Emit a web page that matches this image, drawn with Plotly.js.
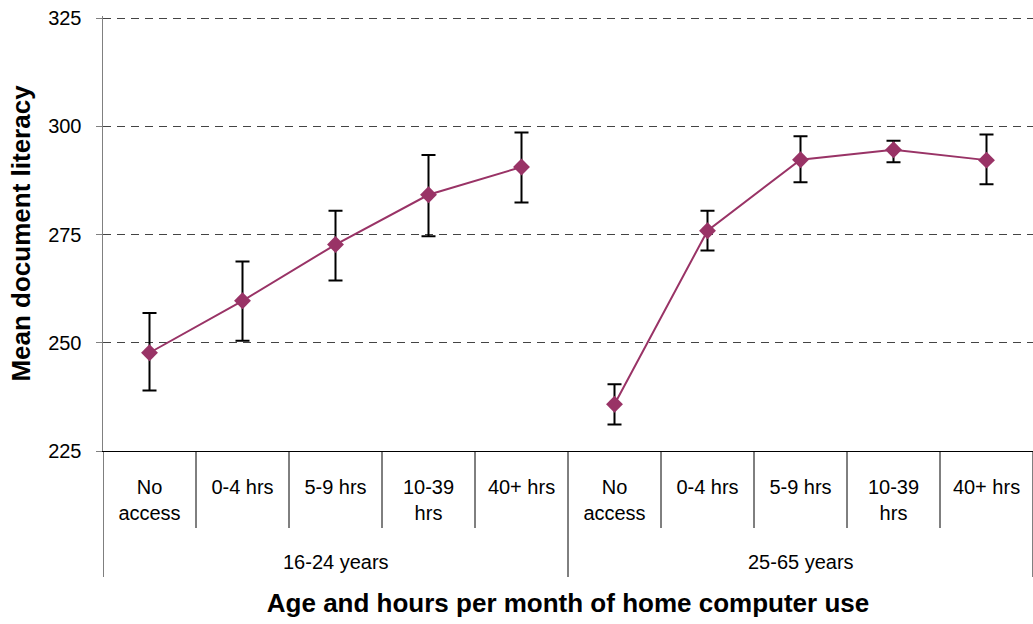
<!DOCTYPE html>
<html>
<head>
<meta charset="utf-8">
<script src="https://cdn.plot.ly/plotly-3.0.1.min.js"></script>
<style>html,body{margin:0;padding:0;background:#fff;}#chart{width:1033px;height:624px;}</style>
</head>
<body>
<div id="chart"></div>
<script>
const hours = ["No<br>access", "0-4 hrs", "5-9 hrs", "10-39<br>hrs", "40+ hrs"];
const groups = ["16-24 years", "25-65 years"];

const mean1624 = [247.7, 259.7, 272.7, 284.2, 290.6];
const upper1624 = [256.9, 268.8, 280.5, 293.4, 298.6];
const lower1624 = [239.0, 250.5, 264.4, 274.6, 282.4];

const mean2565 = [235.8, 275.9, 292.3, 294.6, 292.2];
const upper2565 = [240.4, 280.5, 297.7, 296.7, 298.1];
const lower2565 = [231.1, 271.3, 287.1, 291.7, 286.6];

const yTicks = [225, 250, 275, 300, 325];

const FONT = "Liberation Sans, Arial, sans-serif";
const n = hours.length;

function makeTrace(gi, mean, upper, lower) {
  return {
    type: "scatter",
    mode: "lines+markers",
    x: hours.map((h, i) => gi * n + i),
    y: mean,
    line: {color: "#993366", width: 2},
    marker: {symbol: "diamond", size: 13, color: "#993366"},
    error_y: {
      type: "data", symmetric: false,
      array: upper.map((u, i) => u - mean[i]),
      arrayminus: lower.map((l, i) => mean[i] - l),
      color: "#000000", thickness: 2, width: 7
    },
    showlegend: false,
    hoverinfo: "y"
  };
}

const data = [
  makeTrace(0, mean1624, upper1624, lower1624),
  makeTrace(1, mean2565, upper2565, lower2565)
];

const allTickVals = [];
const allTickText = [];
groups.forEach((g, gi) => hours.forEach((h, i) => { allTickVals.push(gi * n + i); allTickText.push(h); }));

// plot area: top 16, bottom 451 -> 435 px tall
const shapes = [];
for (let b = 0; b <= groups.length * n; b++) {
  const isGroupEdge = (b % n === 0);
  shapes.push({
    type: "line", xref: "x", yref: "paper",
    x0: b - 0.5, x1: b - 0.5, y0: 0, y1: isGroupEdge ? -126 / 435 : -77 / 435,
    line: {color: "#000", width: 1}, layer: "above"
  });
}

const annotations = groups.map((g, gi) => ({
  text: g, xref: "x", yref: "paper",
  x: gi * n + (n - 1) / 2, y: -111 / 435,
  xanchor: "center", yanchor: "middle", showarrow: false,
  font: {family: FONT, size: 20, color: "#000"}
}));

const layout = {
  width: 1033, height: 624,
  margin: {l: 103, r: 0, t: 16, b: 173},
  paper_bgcolor: "#ffffff", plot_bgcolor: "#ffffff",
  font: {family: FONT, size: 20, color: "#000"},
  showlegend: false,
  shapes: shapes,
  annotations: annotations,
  xaxis: {
    range: [-0.5, groups.length * n - 0.5],
    tickvals: allTickVals, ticktext: allTickText,
    showline: true, linecolor: "#000", linewidth: 1,
    showgrid: false, zeroline: false,
    ticks: "", ticklabelstandoff: 18,
    tickfont: {family: FONT, size: 20, color: "#000"},
    title: {text: "<b>Age and hours per month of home computer use</b>",
            font: {family: FONT, size: 26, color: "#000"}, standoff: 70}
  },
  yaxis: {
    range: [225, 325.5], tickvals: yTicks, ticktext: yTicks.map(String),
    showline: true, linecolor: "#808080", linewidth: 1.5,
    ticks: "outside", ticklen: 6, tickcolor: "#808080", ticklabelstandoff: 10,
    showgrid: true, gridcolor: "#444", griddash: "8px,6px", gridwidth: 1,
    zeroline: false,
    tickfont: {family: FONT, size: 20, color: "#000"},
    title: {text: "<b>Mean document literacy</b>",
            font: {family: FONT, size: 26, color: "#000"}, standoff: 10}
  }
};

Plotly.newPlot("chart", data, layout, {displayModeBar: false, staticPlot: true});
</script>
</body>
</html>
